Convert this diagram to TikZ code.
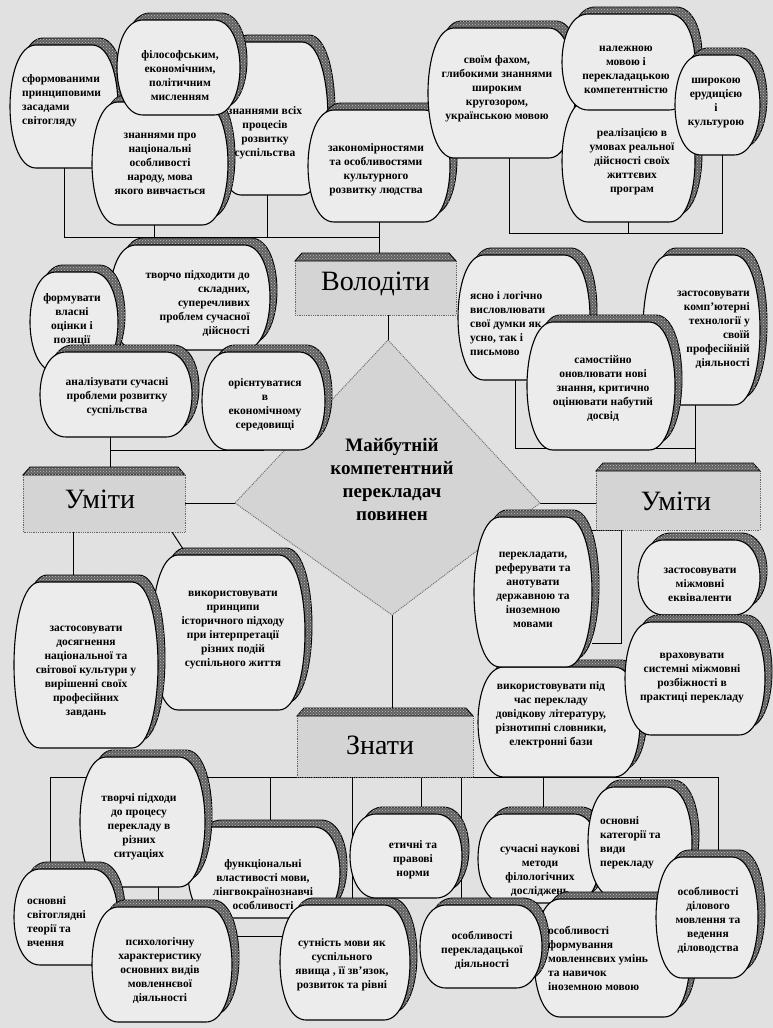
\documentclass[tikz,border=0pt]{standalone}
\usepackage{fontspec}
\setmainfont{Liberation Serif}
\usetikzlibrary{patterns,calc}
\pgfdeclarelayer{paper}
\pgfdeclarelayer{bg}
\pgfsetlayers{paper,bg,main}
\definecolor{paper}{RGB}{225,225,225}
\definecolor{boxfill}{RGB}{236,236,236}
\definecolor{lblfill}{RGB}{212,212,212}
\tikzset{
 bshadow/.style={fill=black!62, draw=black, line width=0.9pt,
   postaction={pattern=crosshatch dots, pattern color=white!75!black}},
 bbody/.style={fill=boxfill, draw=black, line width=1.1pt},
 inv/.style={inner sep=0pt, outer sep=0pt, rectangle},
 btext/.style={font=\bfseries\fontsize{11.5}{14}\selectfont, align=center, inner sep=0pt},
 conn/.style={line width=1pt, draw=black},
 lbltext/.style={font=\fontsize{28}{30}\selectfont, inner sep=0pt},
 lblside/.style={draw=black!60, densely dotted, line width=0.8pt},
 dtext/.style={font=\bfseries\fontsize{19}{23}\selectfont, align=center, inner sep=0pt},
}
\newcommand\brad{26}
\newcommand\barrelshape[5]{%
  \pgfmathsetmacro\bxA{#2+\brad}%
  \pgfmathsetmacro\bxB{#4-\brad}%
  \pgfmathsetmacro\bxC{#4+\brad/3}%
  \pgfmathsetmacro\bxD{#2-\brad/3}%
  \path[#1] (\bxA,#3) -- (\bxB,#3) .. controls (\bxC,#3) and (\bxC,#5) .. (\bxB,#5) -- (\bxA,#5) .. controls (\bxD,#5) and (\bxD,#3) .. (\bxA,#3) -- cycle;%
}
\newcommand\barrel[7][]{%
  \begin{scope}[shift={(7,-7)}]\barrelshape{bshadow}{#3}{#4}{#5}{#6}\end{scope}%
  \barrelshape{bbody}{#3}{#4}{#5}{#6}%
  \node[inv,minimum width={(#5-#3)*1pt},minimum height={(#6-#4)*1pt}] (#2) at ({(#3+#5)/2},{(#4+#6)/2}) {};%
  \node[btext,#1] at (#2.center) {#7};%
}
\newcommand\lbl[7][]{%
  \fill[lblfill] (#3,{#4+6}) rectangle (#5,#6);%
  \draw[lblside] (#3,{#4+8}) -- (#3,#6) -- (#5,#6) -- (#5,{#4+8});%
  \filldraw[bshadow] (#3,{#4+8}) -- ({#3+7},#4) -- ({#5-7},#4) -- (#5,{#4+8}) -- cycle;%
  \node[inv,minimum width={(#5-#3)*1pt},minimum height={(#6-#4)*1pt}] (#2) at ({(#3+#5)/2},{(#4+#6)/2}) {};%
  \node[lbltext,#1] at (#2.center) {#7};%
}
\begin{document}
\begin{tikzpicture}[x=1pt,y=-1pt]
\begin{pgfonlayer}{paper}
\fill[paper] (0,0) rectangle (773,1028);
\end{pgfonlayer}
\useasboundingbox (0,0) rectangle (773,1028);

% central diamond
\coordinate (dT) at (388,340);
\coordinate (dR) at (540,503);
\coordinate (dB) at (392,615);
\coordinate (dL) at (235,503);
\fill[lblfill] (dT) -- (dR) -- (dB) -- (dL) -- cycle;
\draw[black!55, densely dotted, line width=1pt] (dT) -- (dR) -- (dB) -- (dL) -- cycle;
\node[dtext] (dia) at (392,479) {Майбутній\\компетентний\\перекладач\\повинен};

% top-left group
\barrel[anchor=west,align=left,xshift=-42pt,yshift=5.5pt]{A}{10}{45}{118}{168}{сформованими\\принциповими\\засадами\\світогляду}
\barrel[xshift=-6.5pt,yshift=-14.5pt]{D}{215}{42}{328}{195}{знаннями всіх\\процесів\\розвитку\\суспільства}
\barrel[xshift=-3pt,yshift=-4pt]{E}{308}{110}{450}{222}{закономірностями\\та особливостями\\культурного\\розвитку людства}
\barrel{C}{92}{102}{228}{225}{знаннями про\\національні\\особливості\\народу, мова\\якого вивчається}
\barrel[xshift=1.5pt,yshift=-8.5pt]{B}{117}{20}{240}{115}{філософським,\\економічним,\\політичним\\мисленням}

% top-right group
\barrel[xshift=-4.5pt,yshift=4pt]{F}{428}{28}{575}{158}{своїм фахом,\\глибокими знаннями\\широким\\кругозором,\\українською мовою}
\barrel[xshift=3.5pt,yshift=-1pt]{I}{562}{100}{695}{222}{реалізацією в\\умовах реальної\\дійсності своїх\\життєвих\\програм}
\barrel[xshift=-2.5pt,yshift=-8pt]{G}{562}{14}{695}{110}{належною\\мовою і\\перекладацькою\\компетентністю}
\barrel[xshift=-1.5pt,yshift=2pt]{H}{675}{55}{760}{155}{широкою\\ерудицією\\і\\культурою}

% middle-left group
\barrel[anchor=east,align=right,xshift=60pt,yshift=-6.5pt]{J}{110}{245}{270}{350}{творчо підходити до\\складних,\\суперечливих\\проблем сучасної\\дійсності}
\barrel[xshift=-2pt,yshift=2pt]{K}{30}{272}{118}{372}{формувати\\власні\\оцінки і\\позиції}
\barrel[xshift=1pt,yshift=-2.5pt]{L}{40}{352}{192}{437}{аналізувати сучасні\\проблеми розвитку\\суспільства}
\barrel[xshift=1.5pt,yshift=-4pt]{M}{202}{352}{325}{450}{орієнтуватися\\в\\економічному\\середовищі}

% middle-right group
\barrel[anchor=west,align=left,xshift=-54pt,yshift=-6.5pt]{Q}{458}{255}{590}{380}{ясно і логічно\\висловлювати\\свої думки як\\усно, так і\\письмово}
\barrel[anchor=east,align=right,xshift=48.5pt]{R}{643}{255}{760}{405}{застосовувати\\комп’ютерні\\технології у\\своїй\\професійній\\діяльності}
\barrel[xshift=2pt,yshift=-3pt]{S}{527}{322}{675}{450}{самостійно\\оновлювати нові\\знання, критично\\оцінювати набутий\\досвід}

% lower-left group
\barrel[xshift=4.5pt,yshift=2.5pt]{P}{152}{555}{305}{710}{використовувати\\принципи\\історичного підходу\\при інтерпретації\\різних подій\\суспільного життя}
\barrel[yshift=-7pt]{O}{14}{582}{158}{748}{застосовувати\\досягнення\\національної та\\світової культури у\\вирішенні своїх\\професійних\\завдань}

% lower-right group
\barrel[xshift=-8pt,yshift=7pt]{X}{478}{667}{640}{777}{використовувати під\\час перекладу\\довідкову літературу,\\різнотипні словники,\\електронні бази}
\barrel[yshift=2pt]{U}{474}{517}{592}{667}{перекладати,\\реферувати та\\анотувати\\державною та\\іноземною\\мовами}
\barrel[xshift=1pt,yshift=-7.5pt]{V}{638}{540}{760}{615}{застосовувати\\міжмовні\\еквіваленти}
\barrel[xshift=-3pt]{W}{625}{622}{765}{735}{враховувати\\системні міжмовні\\розбіжності в\\практиці перекладу}

% bottom group
\barrel[xshift=-1pt,yshift=-12.5pt]{AA}{188}{827}{340}{918}{функціональні\\властивості мови,\\лінгвокраїнознавчі\\особливості}
\barrel[xshift=-3.5pt,yshift=-5pt]{Y}{80}{757}{205}{887}{творчі підходи\\до процесу\\перекладу в\\різних\\ситуаціях}
\barrel[anchor=west,align=left,xshift=-39pt,yshift=-5pt]{Z}{14}{869}{118}{965}{основні\\світоглядні\\теорії та\\вчення}
\barrel[xshift=-2pt,yshift=-6pt]{AB}{92}{907}{232}{1022}{психологічну\\характеристику\\основних видів\\мовленнєвої\\діяльності}
\barrel[xshift=-3pt,yshift=-2.5pt]{AC}{280}{905}{410}{1020}{сутність мови як\\суспільного\\явища , її зв’язок,\\розвиток та рівні}
\barrel[xshift=7pt,yshift=-4pt]{AD}{350}{814}{462}{898}{етичні та\\правові\\норми}
\barrel[xshift=1pt,yshift=-11.5pt]{AE}{478}{814}{600}{903}{сучасні наукові\\методи\\філологічних\\досліджень}
\barrel[anchor=west,align=left,xshift=-40pt,yshift=-1pt]{AF}{588}{787}{692}{897}{основні\\категорії та\\види\\перекладу}
\barrel[anchor=west,align=left,xshift=-64pt]{AI}{534}{899}{690}{1017}{особливості\\формування\\мовленнєвих умінь\\та навичок\\іноземною мовою}
\barrel[xshift=1pt,yshift=-3.5pt]{AH}{420}{905}{542}{988}{особливості\\перекладацької\\діяльності}
\barrel[xshift=1pt,yshift=-2.5pt]{AG}{656}{857}{758}{978}{особливості\\ділового\\мовлення та\\ведення\\діловодства}

% label boxes
\lbl{Vol}{295}{253}{456}{315}{Володіти}
\lbl[xshift=-4pt]{UmL}{23}{467}{185}{532}{Уміти}
\lbl[yshift=-5pt,xshift=-2pt]{UmR}{596}{463}{760}{530}{Уміти}
\lbl[xshift=-5pt,yshift=-3pt]{Zn}{297}{708}{473}{777}{Знати}

% connectors
\begin{pgfonlayer}{bg}
\coordinate (bl) at (0,237);
\coordinate (br) at (0,233);
\coordinate (bb) at (0,777);
\coordinate (bq) at (0,448);
\coordinate (tc) at (0,643);
\coordinate (pA) at (A.south);
\coordinate (pC) at ([xshift=-6pt]C.south);
\coordinate (pD) at ([xshift=-4pt]D.south);
\coordinate (pE) at (E.south);
\draw[conn] (pA) -- (pA |- bl) -- (pE |- bl);
\draw[conn] (pC) -- (pC |- bl);
\draw[conn] (pD) -- (pD |- bl);
\draw[conn] (pE) -- (pE |- Vol.north);
\coordinate (pF) at ([xshift=8pt]F.south);
\coordinate (pH) at ([xshift=5pt]H.south);
\draw[conn] (pF) -- (pF |- br) -- (pH |- br) -- (pH);
\draw[conn] (I.south) -- (I.south |- br);
\draw[conn] (dT |- Vol.south) -- (dT);
\coordinate (pL) at ([xshift=-6pt]L.south);
\draw[conn] (pL) -- (pL |- UmL.north);
\draw[conn] (pL |- M.south) -- (M.south);
\draw[conn] (UmL.east |- dL) -- (dL);
\coordinate (pQ) at ([xshift=-9pt]Q.south);
\coordinate (pR) at ([xshift=-6.5pt]R.south);
\draw[conn] (pQ) -- (pQ |- bq) -- (pR |- bq);
\draw[conn] (pR) -- (pR |- UmR.north);
\draw[conn] (dR) -- (dR -| UmR.west);
\coordinate (pO) at ([xshift=-31pt]UmL.south);
\draw[conn] (pO) -- (pO |- O.north);
\draw[conn] ([xshift=-13pt]UmL.south east) -- ([xshift=35pt]P.north west);
\draw[conn] (dB) -- (dB |- Zn.north);
\coordinate (tb) at ([xshift=25pt]UmR.south west);
\draw[conn] (U.east |- tb) -- (tb) -- (tb |- tc) -- (U.east |- tc);
\coordinate (qZ) at ([xshift=-16pt]Z.north);
\coordinate (qAA) at ([xshift=6pt]AA.north);
\coordinate (qAC) at ([xshift=7pt]AC.north);
\coordinate (qAD) at ([xshift=15pt]AD.north);
\coordinate (qAH) at ([xshift=-20pt]AH.north);
\coordinate (qAE) at ([xshift=4pt]AE.north);
\coordinate (qAF) at (AF.north);
\coordinate (qAG) at ([xshift=11pt]AG.north);
\draw[conn] (qZ) -- (qZ |- bb) -- (qAG |- bb) -- (qAG);
\foreach \q in {qAA,qAC,qAD,qAH,qAE,qAF} {\draw[conn] (\q) -- (\q |- bb);}
\coordinate (qY) at ([xshift=15.5pt]Y.south);
\draw[conn] (qY) -- (qY |- AB.north);
\coordinate (qB) at ([yshift=28pt]AB.east);
\draw[conn] (qB) -- (qB -| AC.center);
\end{pgfonlayer}
\end{tikzpicture}
\end{document}
